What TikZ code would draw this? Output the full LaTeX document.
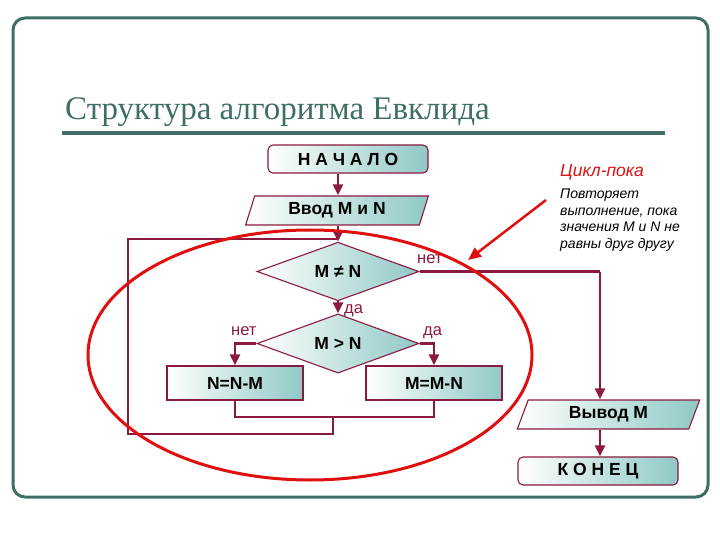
\documentclass[tikz,border=0pt]{standalone}
\usepackage{fontspec}
\setmainfont{Liberation Serif}
\newfontfamily\sansf{Liberation Sans}
\usetikzlibrary{shapes.geometric,arrows.meta}
\definecolor{frameC}{HTML}{3E6E64}
\definecolor{conn}{HTML}{8C1A40}
\definecolor{tealC}{HTML}{8FC9C5}
\definecolor{redC}{HTML}{E01010}
\tikzset{
  blk/.style={draw=conn, line width=1.1pt, left color=white, right color=tealC, inner sep=0pt,
     font=\sansf\bfseries\fontsize{17.5}{17.5}\selectfont, text=black},
  termbox/.style={blk, rectangle, rounded corners=5pt, minimum width=160pt, minimum height=28pt},
  procbox/.style={blk, rectangle, minimum width=136pt, minimum height=34pt},
  iobox/.style={blk, trapezium, trapezium left angle=71, trapezium right angle=109, trapezium stretches=true, minimum height=29pt},
  decbox/.style={blk, diamond, minimum width=162pt, minimum height=43pt},
  flow/.style={draw=conn, line width=2.5pt},
  arr/.style={flow, -{Triangle[length=11pt,width=10pt]}},
  lbl/.style={text=conn, font=\sansf\fontsize{16.5}{16.5}\selectfont, inner sep=0pt}
}
\begin{document}
\begin{tikzpicture}[x=1pt,y=-1pt]
\useasboundingbox (0,0) rectangle (720,540);
\draw[frameC, line width=3pt, rounded corners=12pt] (13,18) rectangle (708,497);
\node[anchor=base west, inner sep=0pt, text=frameC, font=\fontsize{33}{33}\selectfont] (title) at (65,120) {Структура алгоритма Евклида};
\draw[frameC, line width=4pt] (62,133) -- (665,133);

\node[termbox] (start) at (348,159) {Н А Ч А Л О};
\node[iobox, minimum width=183pt] (in) at (337,210.5) {Ввод M и N};
\node[decbox] (d1) at (338,271.5) {M ≠ N};
\node[decbox] (d2) at (338,343.5) {M > N};
\node[procbox] (nnm) at (235,383) {N=N-M};
\node[procbox] (mmn) at (434,383) {M=M-N};
\node[iobox, minimum width=183pt] (out) at (608.5,414.5) {Вывод M};
\node[termbox] (end) at (598,471) {К О Н Е Ц};

\coordinate (j1) at (338,239);
\coordinate (j2) at (333,417);
\coordinate (j3) at (600,271.5);

\draw[arr] (start.south -| 338,0) -- (in.north -| 338,0);
\draw[flow] (in.south -| 338,0) -- (j1);
\draw[arr] (j1) -- (d1.north);
\draw[arr] (d1.south) -- (d2.north);
\draw[flow] (d1.east) -- (j3);
\draw[arr] (j3) -- (out.north -| j3);
\draw[arr] (out.south -| j3) -- (end.north -| j3);
\draw[arr] (d2.west) -| (nnm.north);
\draw[arr] (d2.east) -| (mmn.north);
\draw[flow] (nnm.south) |- (j2) -| (mmn.south);
\draw[flow] (j2) |- (128,434) |- (j1);

\node[lbl, anchor=base west] (no1) at (417,263) {нет};
\node[lbl, anchor=base west] (yes1) at (344,313) {да};
\node[lbl, anchor=base west] (no2) at (231,335) {нет};
\node[lbl, anchor=base west] (yes2) at (423,335) {да};

\draw[redC, line width=3pt] (310,355) ellipse [x radius=222, y radius=125];
\coordinate (ptail) at (546,200);
\coordinate (phead) at (468,260);
\draw[redC, line width=2.5pt, -{Triangle[length=13pt,width=11pt]}] (ptail) -- (phead);

\node[anchor=base west, inner sep=0pt, text=redC, font=\sansf\itshape\fontsize{17.5}{17.5}\selectfont] (ct) at (560,177) {Цикл-пока};
\node[anchor=north west, inner sep=0pt, align=left, font=\sansf\itshape\fontsize{14}{16.7}\selectfont] (cd) at (560,188.5) {Повторяет\\выполнение, пока\\значения M и N не\\равны друг другу};
\end{tikzpicture}
\end{document}
